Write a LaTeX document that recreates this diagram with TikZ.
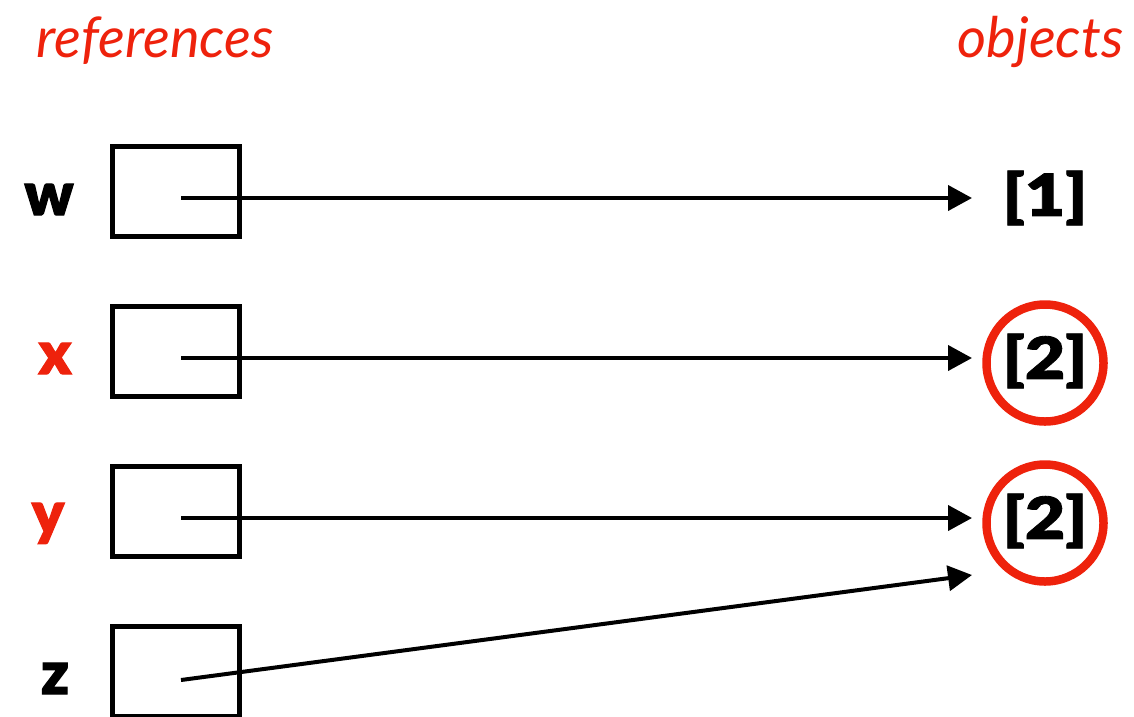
\documentclass[tikz,border=0pt]{standalone}
\usepackage{fontspec}
\setmainfont{Lato}
\newfontfamily\heavyfont[FakeBold=2]{Lato Black}
\newfontfamily\objfont[FakeBold=1.5,FakeStretch=1.2]{Lato Black}
\usetikzlibrary{arrows.meta}
\definecolor{redtxt}{RGB}{238,34,12}
\begin{document}
\begin{tikzpicture}[x=1pt,y=-1pt,
  refbox/.style={draw,line width=5pt,minimum width=127pt,minimum height=90pt,inner sep=0pt},
  varlabel/.style={font=\heavyfont\fontsize{60}{60}\selectfont,anchor=base},
  objtext/.style={font=\objfont\fontsize{58}{58}\selectfont},
  objcircle/.style={draw=redtxt,line width=8.5pt,circle,minimum size=117pt,inner sep=0pt},
  title/.style={font=\itshape\fontsize{56}{56}\selectfont,text=redtxt,anchor=base},
  ptr/.style={line width=4pt,-{Triangle[length=24pt,width=25pt]}}]
\useasboundingbox (0,0) rectangle (1134,716);
% titles
\node[title,anchor=base west] (tref) at (33,57) {references};
\node[title,anchor=base east] (tobj) at (1127,57) {objects};
% boxes
\node[refbox] (bw) at (175.5,191.5) {};
\node[refbox] (bx) at (175.5,351.5) {};
\node[refbox] (by) at (175.5,511.5) {};
\node[refbox] (bz) at (175.5,671.5) {};
% labels
\node[varlabel] (lw) at (49,215) {w};
\node[varlabel,text=redtxt] (lx) at (55,374) {x};
\node[varlabel,text=redtxt] (ly) at (48,534) {y};
\node[varlabel] (lz) at (55,694) {z};
% objects
\node[objtext] (o1) at (1045,198) {[1]};
\node[objcircle] (c2) at (1045,363) {};
\node[objtext] (o2) at (1045,361) {[2]};
\node[objcircle] (c3) at (1045,523) {};
\node[objtext] (o3) at (1045,521) {[2]};
% pointer ends
\coordinate (sw) at (181,198);
\coordinate (sx) at (181,358);
\coordinate (sy) at (181,518);
\coordinate (sz) at (181,680);
\coordinate (ew) at (972,198);
\coordinate (ex) at (972,358);
\coordinate (ey) at (972,518);
\coordinate (ez) at (972,575);
\draw[ptr] (sw) -- (ew);
\draw[ptr] (sx) -- (ex);
\draw[ptr] (sy) -- (ey);
\draw[ptr] (sz) -- (ez);
\end{tikzpicture}
\end{document}
